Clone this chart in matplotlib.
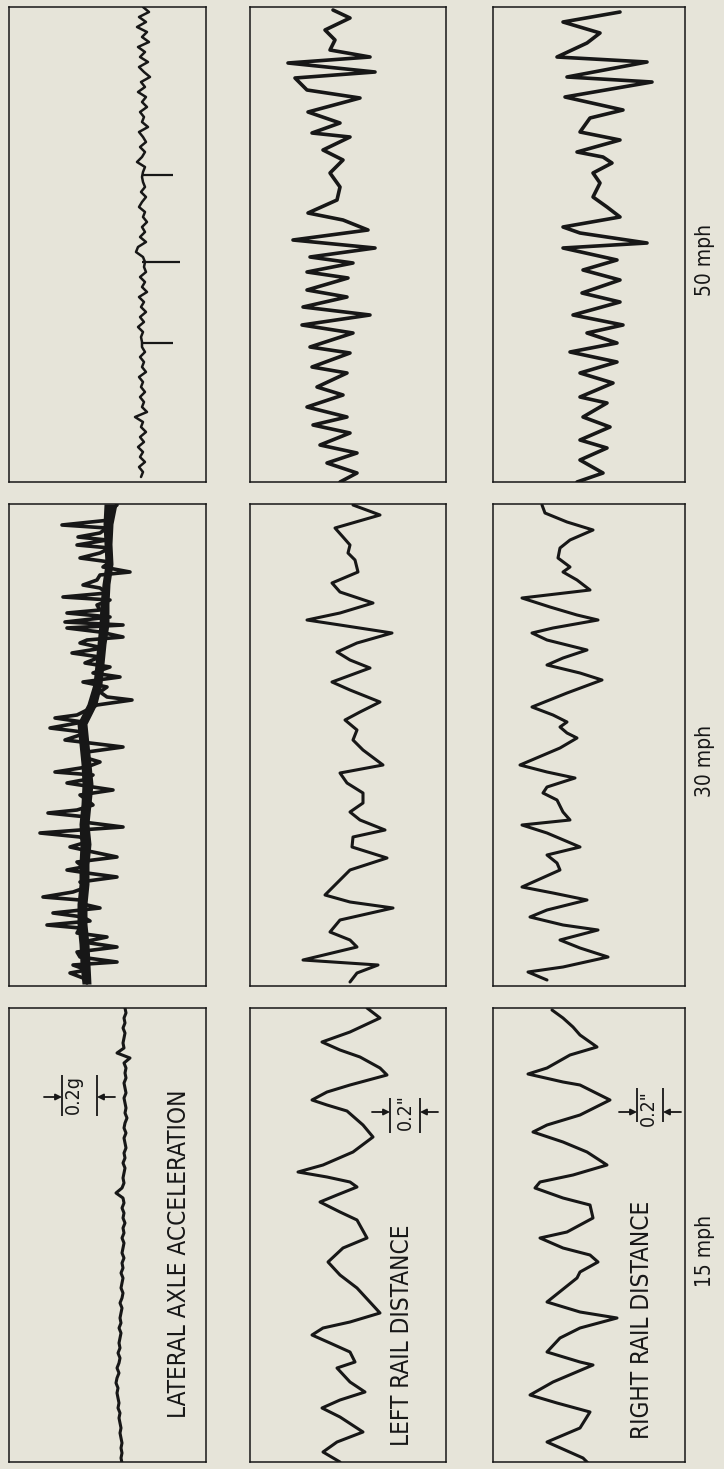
import numpy as np
import matplotlib.pyplot as plt

# Traces. Units are reference pixels:
# t runs down each strip, v runs across it (from the strip's left edge).

# lateral axle acceleration, 15 mph (sampled every 5 px)
acc15_v = [116, 117, 115, 116, 114, 116, 115, 114, 115, 108, 121, 115, 117, 116, 117, 115,
           116, 117, 115, 116, 117, 116, 118, 116, 115, 117, 115, 116, 117, 115, 116, 114,
           116, 115, 114, 115, 113, 107, 114, 115, 113, 115, 114, 116, 114, 115, 113, 115,
           114, 113, 115, 113, 114, 112, 114, 113, 112, 114, 113, 111, 113, 112, 111, 112,
           110, 112, 111, 110, 111, 109, 111, 110, 108, 110, 108, 107, 109, 108, 109, 110,
           109, 111, 110, 111, 112, 111, 112, 113, 112, 113, 112, 113]

# lateral axle acceleration, 30 mph: the heavy band (edges every 20 px) ...
acc30_band_lo = [95, 94, 95, 96, 93, 91, 90, 88, 86, 84, 78, 68, 70, 72, 73, 72, 70, 71, 70,
                 70, 68, 68, 70, 71, 73]
acc30_band_hi = [108, 104, 103, 104, 101, 100, 100, 97, 95, 93, 88, 78, 80, 82, 84, 82, 80,
                 82, 80, 80, 78, 78, 80, 81, 82]
# ... and the spiky trace through it
acc30_t = [1, 9, 16, 21, 24, 29, 33, 36, 41, 44, 49, 54, 58, 63, 68, 71, 76, 81, 84, 89,
           93, 96, 101, 106, 109, 113, 118, 121, 124, 128, 133, 136, 139, 144, 149, 153, 159, 163, 169, 173,
           178, 183, 188, 193, 196, 201, 206, 211, 214, 218, 224, 228, 231, 236, 239, 243, 248, 253, 258, 263,
           268, 271, 276, 279, 283, 286, 291, 296, 301, 306, 309, 313, 318, 323, 326, 329, 333, 338, 343, 348,
           353, 358, 363, 366, 369, 373, 378, 383, 388, 393, 396, 401, 404, 409, 413, 417, 421, 424, 429, 433,
           438, 443, 448, 453, 458, 461, 466, 469, 474, 479]
acc30_v = [108, 98, 101, 53, 98, 91, 69, 98, 68, 101, 91, 71, 101, 94, 121, 91, 88, 74, 91, 98,
           54, 101, 88, 91, 58, 101, 56, 114, 58, 91, 114, 78, 71, 94, 63, 91, 76, 101, 84, 111,
           74, 98, 91, 98, 123, 88, 78, 68, 46, 74, 41, 74, 71, 56, 81, 114, 78, 74, 91, 78,
           46, 84, 74, 58, 84, 104, 71, 78, 84, 68, 39, 78, 74, 114, 71, 31, 71, 78, 61, 84,
           108, 68, 74, 58, 78, 108, 71, 78, 64, 34, 71, 78, 91, 44, 74, 81, 38, 71, 68, 98,
           74, 108, 68, 71, 108, 64, 78, 61, 74, 78]

# lateral axle acceleration, 50 mph (sampled every 5 px) plus its three isolated spikes
acc50_v = [134, 140, 130, 137, 128, 138, 133, 140, 129, 136, 131, 139, 130, 135, 141, 132,
           136, 129, 137, 133, 138, 131, 135, 133, 139, 130, 134, 137, 131, 136, 133, 128,
           136, 134, 133, 134, 136, 132, 137, 133, 130, 136, 134, 138, 133, 136, 131, 137,
           129, 127, 134, 136, 135, 137, 131, 136, 133, 138, 130, 135, 132, 137, 131, 135,
           129, 134, 132, 133, 133, 136, 131, 135, 133, 137, 130, 134, 132, 136, 131, 135,
           133, 138, 126, 134, 132, 137, 131, 135, 129, 134, 131, 136, 130, 134, 132]
acc50_spike_t = [168, 255, 336]
acc50_spike_base = [134, 133, 133]
acc50_spike_v = [164, 171, 164]

# left rail distance
left15_t = [0, 10, 24, 34, 42, 49, 60, 67, 77, 84, 92, 97, 103, 117, 129, 144, 157, 164, 169, 174,
            179, 187, 194, 204, 212, 230, 240, 254, 267, 280, 305, 314, 320, 327, 335, 344, 354, 360, 374, 384,
            392, 400, 409, 424, 434, 444, 454]
left15_v = [117, 130, 100, 72, 90, 110, 130, 137, 100, 77, 62, 77, 97, 113, 123, 103, 73, 48, 77, 100,
            107, 87, 70, 90, 107, 117, 93, 78, 90, 107, 130, 100, 73, 62, 80, 100, 105, 87, 100, 115,
            90, 72, 90, 113, 87, 73, 90]

left30_t = [1, 11, 24, 33, 41, 49, 56, 68, 79, 88, 99, 109, 116, 121, 129, 139, 148, 156, 164, 178,
            186, 198, 208, 216, 226, 236, 246, 261, 269, 279, 289, 299, 308, 316, 326, 333, 343, 354, 366, 379,
            391, 398, 404, 416, 428, 436, 443, 456, 461, 469, 478]
left30_v = [103, 130, 85, 93, 100, 98, 105, 108, 82, 90, 123, 90, 57, 90, 142, 107, 87, 100, 120, 82,
            100, 130, 110, 95, 107, 103, 113, 133, 90, 97, 113, 113, 100, 110, 135, 103, 102, 137, 100, 87,
            75, 100, 143, 90, 80, 100, 107, 53, 128, 107, 100]

left50_t = [3, 11, 23, 33, 43, 50, 56, 65, 71, 83, 91, 105, 116, 126, 130, 143, 153, 166, 180, 193,
            206, 213, 223, 233, 241, 250, 256, 265, 271, 283, 290, 300, 308, 318, 326, 340, 346, 360, 366, 380,
            388, 400, 410, 418, 426, 438, 446, 456, 466, 475]
left50_v = [83, 100, 75, 85, 80, 120, 38, 125, 45, 57, 110, 58, 90, 62, 100, 73, 93, 80, 90, 87,
            58, 93, 118, 43, 125, 60, 103, 57, 98, 57, 97, 53, 120, 52, 103, 60, 100, 62, 97, 67,
            93, 57, 97, 63, 100, 70, 107, 77, 107, 90]

# right rail distance
right15_t = [2, 10, 19, 27, 39, 47, 60, 66, 74, 77, 87, 92, 107, 117, 124, 134, 144, 157, 167, 174,
             180, 190, 197, 210, 217, 224, 230, 240, 247, 254, 264, 270, 294, 304, 310, 320, 330, 344, 354, 357,
             374, 387, 395, 404, 420, 434, 450, 457]
right15_v = [59, 70, 80, 87, 104, 77, 54, 35, 70, 87, 107, 117, 87, 54, 40, 70, 94, 114, 80, 47,
             42, 70, 97, 100, 87, 74, 47, 70, 97, 105, 87, 84, 54, 87, 124, 87, 67, 54, 87, 100,
             60, 37, 64, 97, 87, 54, 90, 97]

right30_t = [1, 9, 18, 26, 36, 44, 54, 63, 68, 76, 86, 94, 103, 111, 116, 124, 129, 136, 146, 154,
             161, 169, 176, 189, 203, 211, 218, 223, 229, 234, 244, 261, 268, 274, 283, 289, 296, 308, 316, 321,
             329, 343, 351, 359, 366, 383, 389, 396, 406, 413, 421, 426, 436, 444, 453, 463, 468, 476]
right30_v = [49, 52, 74, 100, 77, 67, 65, 77, 70, 84, 97, 29, 57, 84, 105, 60, 39, 54, 94, 70,
             54, 87, 109, 74, 39, 60, 74, 67, 74, 84, 67, 27, 54, 82, 54, 50, 64, 70, 77, 29,
             54, 87, 54, 64, 67, 29, 60, 94, 54, 37, 70, 105, 67, 87, 115, 70, 35, 54]

right50_t = [5, 15, 26, 36, 50, 55, 70, 75, 90, 103, 111, 125, 133, 145, 150, 156, 166, 176, 190, 200,
             210, 220, 226, 236, 241, 253, 263, 273, 286, 295, 308, 318, 326, 336, 345, 355, 366, 376, 390, 396,
             410, 420, 433, 441, 453, 466, 475]
right50_v = [127, 70, 107, 94, 64, 154, 74, 159, 72, 130, 97, 87, 127, 84, 110, 119, 100, 107, 100, 114,
             127, 70, 87, 154, 70, 124, 90, 127, 89, 127, 80, 130, 94, 124, 77, 124, 87, 120, 87, 114,
             90, 117, 87, 114, 87, 110, 84]

speeds = ["50 mph", "30 mph", "15 mph"]
channels = ["LATERAL AXLE ACCELERATION", "LEFT RAIL DISTANCE", "RIGHT RAIL DISTANCE"]

paper = "#e6e4d9"
ink = "#171717"
font = ["DejaVu Sans"]

W, H = 724, 1469
cols = [(9, 206), (250, 446), (493, 685)]
rows = [(7, 482), (504, 986), (1008, 1462)]

fig = plt.figure(figsize=(W / 100, H / 100), dpi=100, facecolor=paper)


def panel(c, r):
    x0, x1 = cols[c]
    y0, y1 = rows[r]
    ax = fig.add_axes([x0 / W, 1 - y1 / H, (x1 - x0) / W, (y1 - y0) / H])
    ax.set_xlim(0, x1 - x0)
    ax.set_ylim(y1 - y0, 0)
    ax.set_xticks([])
    ax.set_yticks([])
    ax.set_facecolor(paper)
    for s in ax.spines.values():
        s.set_linewidth(1.1)
        s.set_color(ink)
    return ax


def trace(ax, t, v, lw=2.2):
    ax.plot(v, t, color=ink, lw=lw, solid_joinstyle="round", solid_capstyle="round")


def label(ax, v, t, s, size=17.5):
    ax.text(v, t, s, rotation=90, ha="center", va="center", fontsize=size,
            family=font, fontstretch="condensed", color=ink)


def scale_mark(ax, t, v1, v2, t0, t1, s, tv, tt):
    ax.vlines([v1, v2], t0, t1, color=ink, lw=1.3)
    arrow = dict(arrowstyle="-|>", color=ink, lw=1.3, mutation_scale=9, shrinkA=0, shrinkB=0)
    ax.annotate("", xy=(v1, t), xytext=(v1 - 18, t), arrowprops=arrow)
    ax.annotate("", xy=(v2, t), xytext=(v2 + 18, t), arrowprops=arrow)
    label(ax, tv, tt, s, 14)


t5 = np.arange(len(acc15_v)) * 5
t5b = np.arange(len(acc50_v)) * 5
t20 = np.arange(len(acc30_band_lo)) * 20

# 15 mph
ax = panel(0, 2)
trace(ax, t5, acc15_v, lw=2.2)
scale_mark(ax, 89, 53, 88, 67, 108, "0.2g", 64, 87)
label(ax, 170, 246, channels[0])
ax = panel(1, 2)
trace(ax, left15_t, left15_v)
scale_mark(ax, 104, 140, 170, 90, 125, '0.2"', 155, 104)
label(ax, 152, 327, channels[1])
ax = panel(2, 2)
trace(ax, right15_t, right15_v)
scale_mark(ax, 104, 144, 170, 80, 114, '0.2"', 155, 100)
label(ax, 149, 312, channels[2])

# 30 mph
ax = panel(0, 1)
ax.fill_betweenx(t20, acc30_band_lo, acc30_band_hi, color=ink, lw=0)
trace(ax, acc30_t, acc30_v, lw=2.6)
ax = panel(1, 1)
trace(ax, left30_t, left30_v)
ax = panel(2, 1)
trace(ax, right30_t, right30_v)

# 50 mph
ax = panel(0, 0)
trace(ax, t5b, acc50_v, lw=1.8)
ax.hlines(acc50_spike_t, acc50_spike_base, acc50_spike_v, color=ink, lw=1.6)
ax = panel(1, 0)
trace(ax, left50_t, left50_v, lw=2.6)
ax = panel(2, 0)
trace(ax, right50_t, right50_v, lw=2.6)

label_y = [260, 761, 1251]
for s, y in zip(speeds, label_y):
    fig.text(705 / W, 1 - y / H, s, rotation=90, ha="center", va="center", fontsize=15,
             family=font, fontstretch="condensed", color=ink)

fig.savefig("out.png", dpi=100, facecolor=paper)
